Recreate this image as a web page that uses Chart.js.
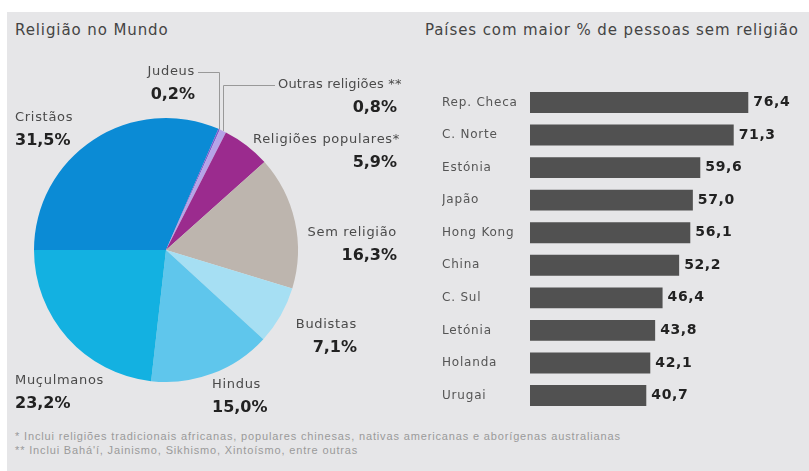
<!DOCTYPE html>
<html>
<head>
<meta charset="utf-8">
<script src="https://cdn.jsdelivr.net/npm/chart.js@4.4.1/dist/chart.umd.min.js"></script>
<style>
  body { margin: 0; background: #fff; font-family: "DejaVu Sans", sans-serif; }
  #wrap { position: relative; width: 809px; height: 471px; overflow: hidden; }
  #panel { position: absolute; left: 7px; top: 12px; width: 802px; height: 459px; background: #e6e6e8; }
  .title { position: absolute; top: 21px; font-size: 15px; letter-spacing: 0.9px; color: #444; white-space: nowrap; }
  #pie { position: absolute; left: 0; top: 0; }
  #bars { position: absolute; left: 420px; top: 76px; }
  .note { position: absolute; left: 15px; font-family: "Liberation Sans", sans-serif; font-size: 11px; letter-spacing: 0.85px; color: #9a9a9a; white-space: nowrap; }
</style>
</head>
<body>
<div id="wrap">
  <div id="panel"></div>
  <div class="title" style="left:15px">Religião no Mundo</div>
  <div class="title" style="left:425px">Países com maior % de pessoas sem religião</div>
  <canvas id="pie" width="420" height="430"></canvas>
  <canvas id="bars" width="389" height="346"></canvas>
  <div class="note" style="top:430px">* Inclui religiões tradicionais africanas, populares chinesas, nativas americanas e aborígenas australianas</div>
  <div class="note" style="top:444px">** Inclui Bahá'í, Jainismo, Sikhismo, Xintoísmo, entre outras</div>
</div>
<script>
// dados
const religioes = ["Cristãos", "Judeus", "Outras religiões **", "Religiões populares*", "Sem religião", "Budistas", "Hindus", "Muçulmanos"];
const percentuais = [31.5, 0.2, 0.8, 5.9, 16.3, 7.1, 15.0, 23.2];
const coresPizza = ["#0b8bd5", "#7d5ccf", "#b6a3e8", "#9b2b8e", "#bdb5ae", "#a6dff3", "#5fc6ec", "#13b1e1"];

const paises = ["Rep. Checa", "C. Norte", "Estónia", "Japão", "Hong Kong", "China", "C. Sul", "Letónia", "Holanda", "Urugai"];
const semReligiao = [76.4, 71.3, 59.6, 57.0, 56.1, 52.2, 46.4, 43.8, 42.1, 40.7];

// posicoes dos rotulos da pizza (so layout)
const rotulos = [
  { x: 15, y: 118, pctX: 15, align: "left" },
  { x: 195, y: 72, pctX: 195, align: "right", leader: 198 },
  { x: 278, y: 85, pctX: 397, align: "left", pctAlign: "right", leader: 275, sp: "0.2px" },
  { x: 400, y: 140, pctX: 397, align: "right" },
  { x: 397, y: 233, pctX: 397, align: "right" },
  { x: 357, y: 325, pctX: 357, align: "right" },
  { x: 212, y: 385, pctX: 212, align: "left" },
  { x: 15, y: 381, pctX: 15, align: "left" }
];

const fmt = v => v.toFixed(1).replace(".", ",");

const spacing = {
  id: "spacing",
  beforeDraw(chart) { chart.ctx.letterSpacing = "0.8px"; }
};

const pieLabels = {
  id: "pieLabels",
  afterDraw(chart) {
    const ctx = chart.ctx;
    const arcs = chart.getDatasetMeta(0).data;
    ctx.save();
    ctx.textBaseline = "middle";
    rotulos.forEach((r, i) => {
      ctx.letterSpacing = r.sp || "0.7px";
      ctx.fillStyle = "#4a4a4a";
      ctx.font = "13px 'DejaVu Sans'";
      ctx.textAlign = r.align;
      ctx.fillText(religioes[i], r.x, r.y);
      ctx.letterSpacing = "0px";
      ctx.fillStyle = "#222";
      ctx.font = "bold 16px 'DejaVu Sans'";
      ctx.textAlign = r.pctAlign || r.align;
      ctx.fillText(fmt(percentuais[i]) + "%", r.pctX, r.y + 23);
      if (r.leader) {
        const a = arcs[i];
        const mid = (a.startAngle + a.endAngle) / 2;
        const px = a.x + Math.cos(mid) * a.outerRadius;
        const py = a.y + Math.sin(mid) * a.outerRadius;
        ctx.strokeStyle = "#999";
        ctx.lineWidth = 1;
        ctx.beginPath();
        ctx.moveTo(r.leader, r.y + 0.5);
        ctx.lineTo(Math.round(px) + 0.5, r.y + 0.5);
        ctx.lineTo(Math.round(px) + 0.5, py);
        ctx.stroke();
      }
    });
    ctx.restore();
  }
};

new Chart(document.getElementById("pie").getContext("2d"), {
  type: "pie",
  data: {
    labels: religioes,
    datasets: [{
      data: percentuais,
      backgroundColor: coresPizza,
      borderWidth: 0
    }]
  },
  options: {
    responsive: false,
    animation: false,
    events: [],
    rotation: -90,
    layout: { padding: { left: 34, top: 118, right: 122, bottom: 48 } },
    plugins: { legend: { display: false }, tooltip: { enabled: false } }
  },
  plugins: [pieLabels]
});

const barValues = {
  id: "barValues",
  afterDatasetsDraw(chart) {
    const ctx = chart.ctx;
    ctx.save();
    ctx.letterSpacing = "0.6px";
    ctx.font = "bold 14px 'DejaVu Sans'";
    ctx.fillStyle = "#222";
    ctx.textBaseline = "middle";
    chart.getDatasetMeta(0).data.forEach((bar, i) => {
      ctx.fillText(fmt(semReligiao[i]), bar.x + 5, bar.y);
    });
    ctx.restore();
  }
};

new Chart(document.getElementById("bars").getContext("2d"), {
  type: "bar",
  data: {
    labels: paises,
    datasets: [{
      data: semReligiao,
      backgroundColor: "#515151",
      barPercentage: 0.64,
      categoryPercentage: 1
    }]
  },
  options: {
    indexAxis: "y",
    responsive: false,
    animation: false,
    events: [],
    layout: { padding: { left: 22, right: 39, top: 0, bottom: 0 } },
    scales: {
      x: { display: false, min: 0, max: 84 },
      y: {
        grid: { display: false },
        border: { display: false },
        afterFit(scale) { scale.width = 88; },
        ticks: { crossAlign: "far", color: "#555", font: { family: "DejaVu Sans", size: 12 } }
      }
    },
    plugins: { legend: { display: false }, tooltip: { enabled: false } }
  },
  plugins: [spacing, barValues]
});
</script>
</body>
</html>
